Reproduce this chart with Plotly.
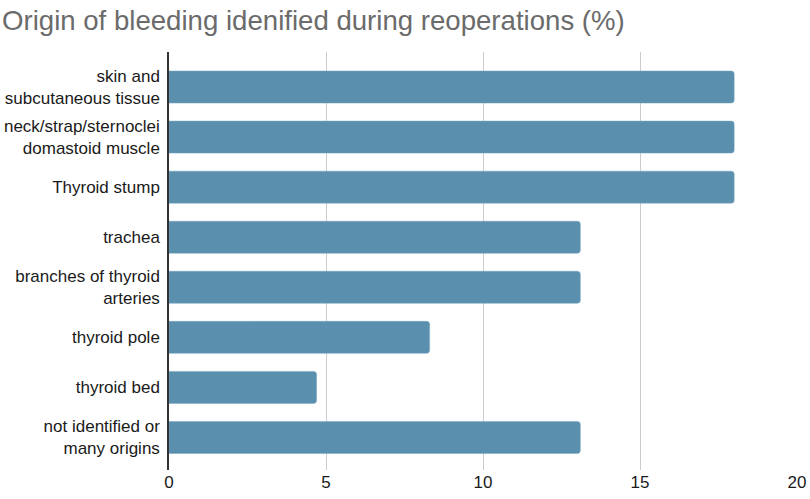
import plotly.graph_objects as go

categories = [
    "skin and<br>subcutaneous tissue",
    "neck/strap/sternoclei<br>domastoid muscle",
    "Thyroid stump",
    "trachea",
    "branches of thyroid<br>arteries",
    "thyroid pole",
    "thyroid bed",
    "not identified or<br>many origins",
]
values = [18.0, 18.0, 18.0, 13.1, 13.1, 8.3, 4.7, 13.1]
x_ticks = [0, 5, 10, 15, 20]

fig = go.Figure(go.Bar(
    x=values, y=categories, orientation="h",
    marker=dict(color="#5a8fae", line=dict(width=0.5, color="#7aa6c0"), cornerradius=3),
    hoverinfo="x+y",
))

fig.update_layout(
    width=810, height=499,
    margin=dict(l=169, r=13, t=52, b=29, autoexpand=False),
    plot_bgcolor="white", paper_bgcolor="white",
    bargap=0.36,
    showlegend=False,
    title=dict(text="Origin of bleeding idenified during reoperations (%)",
               xref="container", x=0, xanchor="left", pad=dict(l=2),
               yref="container", y=0.96, yanchor="middle",
               font=dict(family="Liberation Sans, Arial", size=27.6, color="#6b6b6b")),
    font=dict(family="Liberation Sans, Arial", color="#1a1a1a"),
)
fig.update_xaxes(range=[0, 20], tickvals=x_ticks, showgrid=True, gridcolor="#cccccc",
                 gridwidth=1.3, zeroline=False, showline=False, automargin=False,
                 tickfont=dict(size=17, color="#1a1a1a"), ticks="", fixedrange=True)
fig.update_yaxes(categoryorder="array", categoryarray=categories, automargin=False,
                 range=[7.65, -0.7], showline=True, linecolor="#333333", linewidth=1.5,
                 tickfont=dict(size=17, color="#1a1a1a"), ticks="", ticklabelstandoff=4,
                 showgrid=False, fixedrange=True)

fig.write_html("out.html", config={"displayModeBar": False},
               post_script="document.body.style.margin='0px';")
